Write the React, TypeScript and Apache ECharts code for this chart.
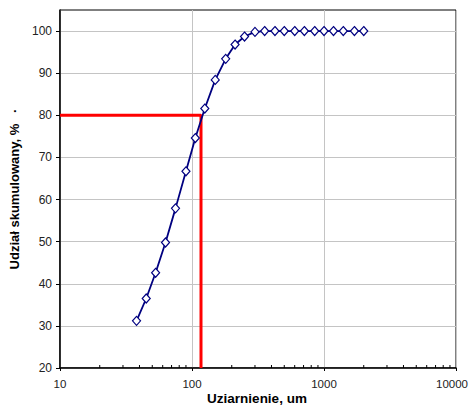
import React, { useEffect, useRef } from "react";
import * as echarts from "echarts";

const sizes = [38, 45, 53, 63, 75, 90, 106, 125, 150, 180, 212, 250, 300, 355, 425, 500, 600, 710, 850, 1000, 1180, 1400, 1700, 2000];
const cumulative = [31.2, 36.5, 42.6, 49.8, 57.9, 66.7, 74.6, 81.6, 88.4, 93.4, 96.8, 98.7, 99.8, 100, 100, 100, 100, 100, 100, 100, 100, 100, 100, 100];
const d80 = 117;
const level80 = 80;
const yTicks = [20, 30, 40, 50, 60, 70, 80, 90, 100];
const minorXTicks = [20, 30, 40, 50, 60, 70, 80, 90, 200, 300, 400, 500, 600, 700, 800, 900, 2000, 3000, 4000, 5000, 6000, 7000, 8000, 9000];
const xTitle = "Uziarnienie, um";
const yTitle = "Udział skumulowany, %   ·";

export default function App() {
  const ref = useRef<HTMLDivElement>(null);
  useEffect(() => {
    if (!ref.current) return;
    const chart = echarts.init(ref.current, undefined, { renderer: "svg" });
    const font = "Liberation Sans, Arial, sans-serif";
    chart.setOption({
      animation: false,
      backgroundColor: "#ffffff",
      grid: {
        left: 60,
        top: 10,
        right: 15,
        bottom: 37,
        show: true,
        borderColor: "#000",
        borderWidth: 1,
        containLabel: false,
        outerBoundsMode: "none",
      },
      graphic: [
        {
          type: "text",
          x: 257,
          y: 398,
          style: {
            text: xTitle,
            fontFamily: font,
            fontSize: 13.5,
            fontWeight: "bold",
            fill: "#000",
            textAlign: "center",
            textVerticalAlign: "middle",
          },
        },
      ],
      xAxis: {
        type: "log",
        logBase: 10,
        min: 10,
        max: 10000,
        axisLine: { lineStyle: { color: "#000", width: 1.5 } },
        axisTick: { show: true, length: 3, lineStyle: { color: "#000" } },
        axisLabel: {
          fontFamily: font,
          fontSize: 11.5,
          color: "#222",
          margin: 10,
          formatter: (v: number) => (v >= 10000 ? "{r|" + Math.round(v) + "}" : String(Math.round(v))),
          rich: { r: { fontFamily: font, fontSize: 11.5, color: "#222", padding: [0, 8, 0, 0] } },
        },
        splitLine: { show: true, lineStyle: { color: "#c4c4c4", width: 1 } },
      },
      yAxis: {
        type: "value",
        min: 20,
        max: 105,
        interval: 10,
        name: yTitle,
        nameLocation: "middle",
        nameGap: 38,
        nameRotate: 90,
        nameTextStyle: { fontFamily: font, fontSize: 13, fontWeight: "bold", color: "#000" },
        axisLine: { show: true, lineStyle: { color: "#000", width: 1.5 } },
        axisTick: { show: true, length: 4, lineStyle: { color: "#000" }, customValues: yTicks },
        axisLabel: {
          fontFamily: font,
          fontSize: 12,
          color: "#222",
          margin: 8,
          customValues: yTicks,
          formatter: (v: number) => (v > 100 ? "" : String(v)),
        },
        splitLine: { show: true, lineStyle: { color: "#c4c4c4", width: 1 } },
      },
      series: [
        {
          type: "custom",
          silent: true,
          data: minorXTicks.map((v) => [v, 20]),
          renderItem: (_params: any, api: any) => {
            const p = api.coord([api.value(0), api.value(1)]);
            return {
              type: "line",
              shape: { x1: p[0], y1: p[1], x2: p[0], y2: p[1] - 3 },
              style: { stroke: "#000", lineWidth: 1 },
            };
          },
          z: 5,
        },
        {
          type: "line",
          data: [[10, level80], [d80, level80], [d80, 20]],
          showSymbol: false,
          symbol: "none",
          lineStyle: { color: "#ff0000", width: 3 },
          z: 3,
        },
        {
          type: "line",
          data: sizes.map((s, i) => [s, cumulative[i]]),
          symbol: "diamond",
          symbolSize: [8, 9],
          itemStyle: { color: "#ffffff", borderColor: "#000080", borderWidth: 1.2 },
          lineStyle: { color: "#000080", width: 1.8 },
          z: 4,
        },
      ],
    });
    return () => chart.dispose();
  }, []);
  return (
    <div
      ref={ref}
      style={{ position: "fixed", left: 0, top: 0, width: 471, height: 405, background: "#fff" }}
    />
  );
}
